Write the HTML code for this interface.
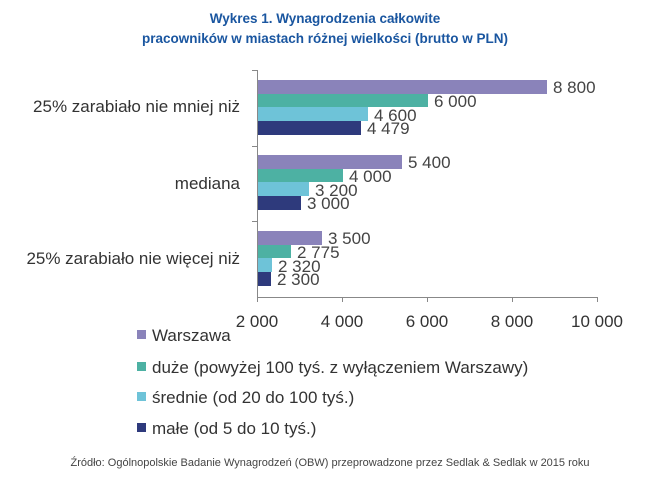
<!DOCTYPE html>
<html><head><meta charset="utf-8"><style>
body{margin:0;background:#fff;}
svg{display:block;}
</style></head><body>
<svg width="650" height="494" xmlns="http://www.w3.org/2000/svg" font-family="Liberation Sans, sans-serif">
<rect width="650" height="494" fill="#fff"/>
<text x="325" y="23" text-anchor="middle" font-size="13.5" font-weight="bold" fill="#1a56a0">Wykres 1. Wynagrodzenia całkowite</text>
<text x="325" y="43" text-anchor="middle" font-size="13.5" font-weight="bold" fill="#1a56a0">pracowników w miastach różnej wielkości (brutto w PLN)</text>
<g stroke="#888" stroke-width="1">
<line x1="257.5" y1="70" x2="257.5" y2="297"/>
<line x1="257" y1="297.5" x2="598" y2="297.5"/>
<line x1="252" y1="146.5" x2="257" y2="146.5"/>
<line x1="252" y1="221.5" x2="257" y2="221.5"/>
<line x1="252" y1="70.5" x2="257" y2="70.5"/>
<line x1="342.5" y1="297" x2="342.5" y2="302"/>
<line x1="427.5" y1="297" x2="427.5" y2="302"/>
<line x1="512.5" y1="297" x2="512.5" y2="302"/>
<line x1="597.5" y1="297" x2="597.5" y2="302"/>
<line x1="257.5" y1="297" x2="257.5" y2="302"/>
</g>
<g>
<rect x="258" y="80" width="289" height="14" fill="#8a83ba"/>
<rect x="258" y="94" width="170" height="13" fill="#4db1a3"/>
<rect x="258" y="107" width="110" height="14" fill="#6ec3d8"/>
<rect x="258" y="121" width="103" height="14" fill="#2e3a7c"/>
<rect x="258" y="155" width="144" height="14" fill="#8a83ba"/>
<rect x="258" y="169" width="85" height="13" fill="#4db1a3"/>
<rect x="258" y="182" width="51" height="14" fill="#6ec3d8"/>
<rect x="258" y="196" width="43" height="14" fill="#2e3a7c"/>
<rect x="258" y="231" width="64" height="14" fill="#8a83ba"/>
<rect x="258" y="245" width="33" height="13" fill="#4db1a3"/>
<rect x="258" y="258" width="14" height="14" fill="#6ec3d8"/>
<rect x="258" y="272" width="13" height="14" fill="#2e3a7c"/>
</g>
<g font-size="17" fill="#444">
<text x="553" y="93">8 800</text>
<text x="434" y="107">6 000</text>
<text x="374" y="121">4 600</text>
<text x="367" y="134">4 479</text>
<text x="408" y="168">5 400</text>
<text x="349" y="182">4 000</text>
<text x="315" y="196">3 200</text>
<text x="307" y="209">3 000</text>
<text x="328" y="244">3 500</text>
<text x="297" y="258">2 775</text>
<text x="278" y="272">2 320</text>
<text x="277" y="285">2 300</text>
</g>
<g font-size="17" fill="#333">
<text x="240" y="112" text-anchor="end">25% zarabiało nie mniej niż</text>
<text x="240" y="189" text-anchor="end">mediana</text>
<text x="240" y="264" text-anchor="end">25% zarabiało nie więcej niż</text>
</g>
<g font-size="17" fill="#333" text-anchor="middle">
<text x="257" y="327">2 000</text>
<text x="342" y="327">4 000</text>
<text x="427" y="327">6 000</text>
<text x="512" y="327">8 000</text>
<text x="597" y="327">10 000</text>
</g>
<g font-size="17" fill="#333">
<rect x="137" y="330" width="9" height="9" fill="#8a83ba"/>
<text x="152" y="341">Warszawa</text>
<rect x="137" y="362" width="9" height="9" fill="#4db1a3"/>
<text x="152" y="373">duże (powyżej 100 tyś. z wyłączeniem Warszawy)</text>
<rect x="137" y="392" width="9" height="9" fill="#6ec3d8"/>
<text x="152" y="403">średnie (od 20 do 100 tyś.)</text>
<rect x="137" y="423" width="9" height="9" fill="#2e3a7c"/>
<text x="152" y="434">małe (od 5 do 10 tyś.)</text>
</g>
<text x="330" y="466" text-anchor="middle" font-size="11" fill="#444">Źródło: Ogólnopolskie Badanie Wynagrodzeń (OBW) przeprowadzone przez Sedlak &amp; Sedlak w 2015 roku</text>
</svg>
</body></html>
